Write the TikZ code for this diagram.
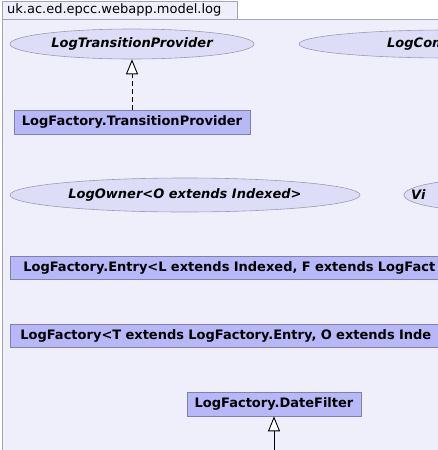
\documentclass[tikz,border=0pt]{standalone}
\usepackage{fontspec}
\setsansfont{DejaVu Sans}
\usepackage{tikz}
\usetikzlibrary{arrows.meta, positioning, shapes.geometric}

\definecolor{pkgfill}{HTML}{EFEFFB}
\definecolor{pkgline}{HTML}{A4A4B4}
\definecolor{clsfill}{HTML}{B8B8F8}
\definecolor{clsline}{HTML}{8080B0}
\definecolor{ifcfill}{HTML}{DDDDF7}
\definecolor{ifcline}{HTML}{9C9CB0}

\begin{document}
\begin{tikzpicture}[
  x=1pt, y=-1pt,
  font=\sffamily\fontsize{13}{15}\selectfont,
  realise/.style={
    -{Triangle[length=15pt, width=12pt, fill=white]},
    line width=0.9pt, dash pattern=on 5pt off 3pt, draw=black
  },
  inherit/.style={
    -{Triangle[length=15pt, width=12pt, fill=white]},
    line width=0.9pt, draw=black
  },
  cls/.style={
    draw=clsline, fill=clsfill, line width=0.7pt, rectangle,
    font=\sffamily\bfseries\fontsize{13}{15}\selectfont,
    inner sep=0pt, minimum height=24pt
  },
  ifc/.style={
    draw=ifcline, fill=ifcfill, line width=0.6pt, ellipse,
    font=\sffamily\bfseries\itshape\fontsize{13}{15}\selectfont,
    inner sep=0pt
  },
  lab/.style={font=\sffamily\bfseries\itshape\fontsize{13}{15}\selectfont, inner sep=0pt}
]
\useasboundingbox (0,0) rectangle (438,450);
\clip (0,0) rectangle (438,450);

% --- package frame + tab ---
\draw[draw=pkgline, fill=pkgfill, line width=0.8pt] (2.5,19) rectangle (470,480);
\draw[draw=pkgline, fill=pkgfill, line width=0.8pt] (2.5,1.5) rectangle (237,19);
\node[anchor=west, inner sep=0pt] (pkg) at (7,10) {uk.ac.ed.epcc.webapp.model.log};

% --- interfaces ---
\node[ifc, minimum width=244pt, minimum height=30pt] (ltp) at (132,44) {LogTransitionProvider};
\node[ifc, minimum width=300pt, minimum height=28pt] (lcom) at (449,44) {};
\node[lab, anchor=west] (lcomtxt) at (387,44) {LogCom};
\node[ifc, minimum width=350pt, minimum height=34pt] (lowner) at (185,195) {LogOwner<O extends Indexed>};
\node[ifc, minimum width=200pt, minimum height=34pt] (vi) at (504,195) {};
\node[lab, anchor=west] (vitxt) at (411,195) {Vi};

% --- classes ---
\node[cls, minimum width=236pt] (ltpimpl) at (132,122) {LogFactory.TransitionProvider};
\node[cls, anchor=north west, minimum height=23pt, text width=480pt, align=left, inner xsep=13pt]
  (entry) at (10,256) {LogFactory.Entry<L extends Indexed, F extends LogFact};
\node[cls, anchor=north west, minimum height=23pt, text width=480pt, align=left, inner xsep=10pt]
  (factory) at (10,324) {LogFactory<T extends LogFactory.Entry, O extends Inde};
\node[cls, minimum width=174pt] (datefilter) at (274,404) {LogFactory.DateFilter};
\coordinate (dfsub) at (274,460);

% --- links ---
\draw[realise] (ltpimpl) -- (ltp);
\draw[inherit] (dfsub) -- (datefilter);

\end{tikzpicture}
\end{document}
